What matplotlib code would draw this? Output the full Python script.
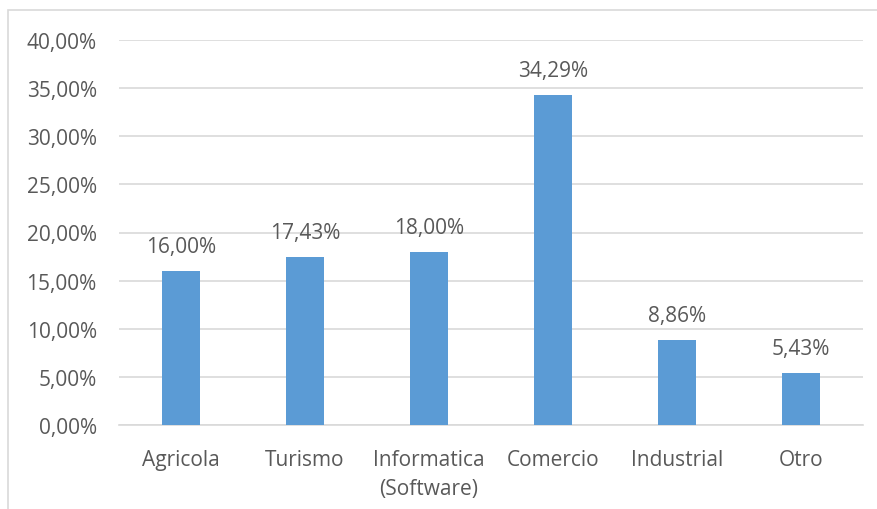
import matplotlib.pyplot as plt
from matplotlib.patches import Rectangle
from matplotlib.ticker import FuncFormatter

categories = ['Agricola', 'Turismo', 'Informatica\n(Software)', 'Comercio', 'Industrial', 'Otro']
values = [16.00, 17.43, 18.00, 34.29, 8.86, 5.43]
yticks = [0, 5, 10, 15, 20, 25, 30, 35, 40]

bar_color = '#5B9BD5'
grid_color = '#D9D9D9'
text_color = '#595959'

plt.rcParams['font.family'] = ['Open Sans', 'DejaVu Sans']

fig = plt.figure(figsize=(8.78, 5.10), dpi=100)
W, H = 878, 510
ax = fig.add_axes([119 / W, 1 - 426 / H, (863 - 119) / W, (426 - 41) / H])

# outer chart frame
fig.patches.append(Rectangle((8 / W, -0.1), 1.2, 1 - 11 / H + 0.1, transform=fig.transFigure,
                             fill=False, edgecolor=grid_color, linewidth=1.2))

x = range(len(categories))
bars = ax.bar(x, values, width=0.31, color=bar_color, zorder=3)

for b, v in zip(bars, values):
    ax.annotate(f'{v:.2f}%'.replace('.', ','), (b.get_x() + b.get_width() / 2, v),
                xytext=(0, 10), textcoords='offset points', ha='center', va='bottom',
                fontsize=15, color=text_color)

ax.set_xlim(-0.5, len(categories) - 0.5)
ax.set_ylim(0, 40)
ax.set_yticks(yticks)
ax.yaxis.set_major_formatter(FuncFormatter(lambda v, p: f'{v:.2f}%'.replace('.', ',')))
ax.set_xticks(list(x))
ax.set_xticklabels(categories, linespacing=1.55)

ax.grid(axis='y', color=grid_color, linewidth=1.2, zorder=0)
for s in ['top', 'right', 'left']:
    ax.spines[s].set_visible(False)
ax.spines['bottom'].set_color(grid_color)
ax.spines['bottom'].set_linewidth(1.2)
ax.tick_params(axis='both', length=0, labelsize=15, labelcolor=text_color)
ax.tick_params(axis='y', pad=16)
ax.tick_params(axis='x', pad=17)

fig.savefig('out.png', dpi=100, facecolor='white')
